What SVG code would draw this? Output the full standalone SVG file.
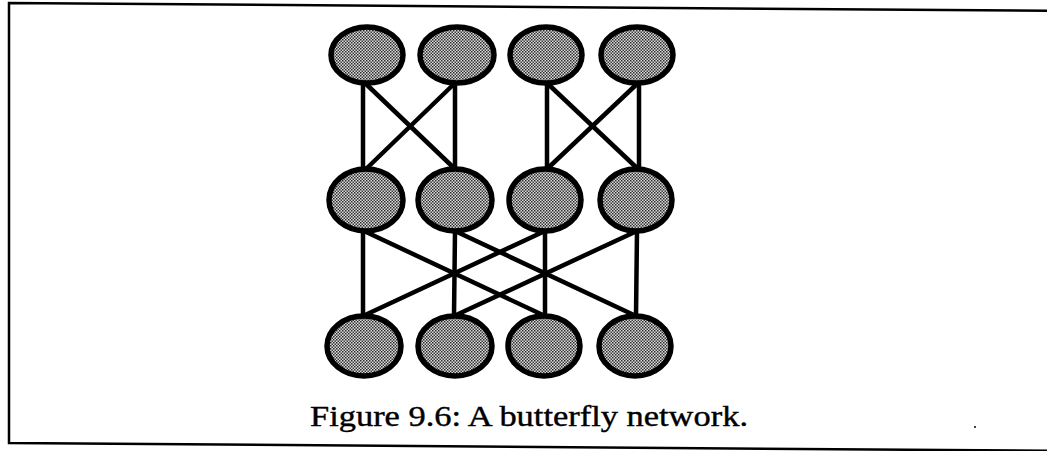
<svg xmlns="http://www.w3.org/2000/svg" width="1047" height="451" viewBox="0 0 1047 451">
<defs>
<pattern id="dots" width="3" height="3" patternUnits="userSpaceOnUse">
<rect width="3" height="3" fill="#dcdcdc"/>
<rect x="0" y="0" width="1.5" height="1.5" fill="#2a2a2a"/>
<rect x="1.5" y="1.5" width="1.5" height="1.5" fill="#3a3a3a"/>
</pattern>
</defs>
<style>
.node{fill:url(#dots);stroke:#000;stroke-width:5.5}
.edge{stroke:#000;stroke-width:4.5;stroke-linecap:round;fill:none}
.frame{stroke:#000;stroke-width:2.5;fill:none}
.cap{font-family:"Liberation Serif",serif;font-size:30px;fill:#000;stroke:#000;stroke-width:0.4}
</style>
<rect width="1047" height="451" fill="#fff"/>
<path class="frame" d="M1047,10.8 L9,3 L9,443 L1047,450.8"/>
<g id="connectors">
<line class="edge" x1="363" y1="83" x2="363" y2="169"/>
<line class="edge" x1="365" y1="83" x2="455" y2="169"/>
<line class="edge" x1="455" y1="83" x2="366" y2="169"/>
<line class="edge" x1="455" y1="83" x2="455" y2="169"/>
<line class="edge" x1="547" y1="83" x2="547" y2="169"/>
<line class="edge" x1="547" y1="83" x2="638" y2="169"/>
<line class="edge" x1="638" y1="83" x2="547" y2="169"/>
<line class="edge" x1="639" y1="83" x2="639" y2="169"/>
<line class="edge" x1="363" y1="231" x2="363" y2="316"/>
<line class="edge" x1="455" y1="231" x2="454" y2="316"/>
<line class="edge" x1="545" y1="231" x2="545" y2="316"/>
<line class="edge" x1="637" y1="231" x2="636" y2="316"/>
<line class="edge" x1="364" y1="231" x2="545" y2="316"/>
<line class="edge" x1="455" y1="231" x2="636" y2="316"/>
<line class="edge" x1="545" y1="231" x2="363" y2="316"/>
<line class="edge" x1="637" y1="231" x2="454" y2="316"/>
</g>
<g id="t1"><ellipse class="node" cx="367" cy="55" rx="36" ry="28"/></g>
<g id="t2"><ellipse class="node" cx="457" cy="55" rx="37" ry="28"/></g>
<g id="t3"><ellipse class="node" cx="546" cy="55" rx="36" ry="28"/></g>
<g id="t4"><ellipse class="node" cx="637" cy="55" rx="36" ry="28"/></g>
<g id="m1"><ellipse class="node" cx="366" cy="200" rx="37" ry="31"/></g>
<g id="m2"><ellipse class="node" cx="455" cy="200" rx="37" ry="31"/></g>
<g id="m3"><ellipse class="node" cx="545" cy="200" rx="36" ry="31"/></g>
<g id="m4"><ellipse class="node" cx="636" cy="200" rx="36" ry="31"/></g>
<g id="b1"><ellipse class="node" cx="364" cy="346" rx="37" ry="30"/></g>
<g id="b2"><ellipse class="node" cx="455" cy="346" rx="37" ry="30"/></g>
<g id="b3"><ellipse class="node" cx="544" cy="346" rx="36" ry="30"/></g>
<g id="b4"><ellipse class="node" cx="635" cy="346" rx="36" ry="30"/></g>
<text class="cap" x="310" y="426" textLength="438" lengthAdjust="spacingAndGlyphs">Figure 9.6: A butterfly network.</text>
<rect x="974" y="426" width="2" height="2" fill="#444"/>
</svg>
